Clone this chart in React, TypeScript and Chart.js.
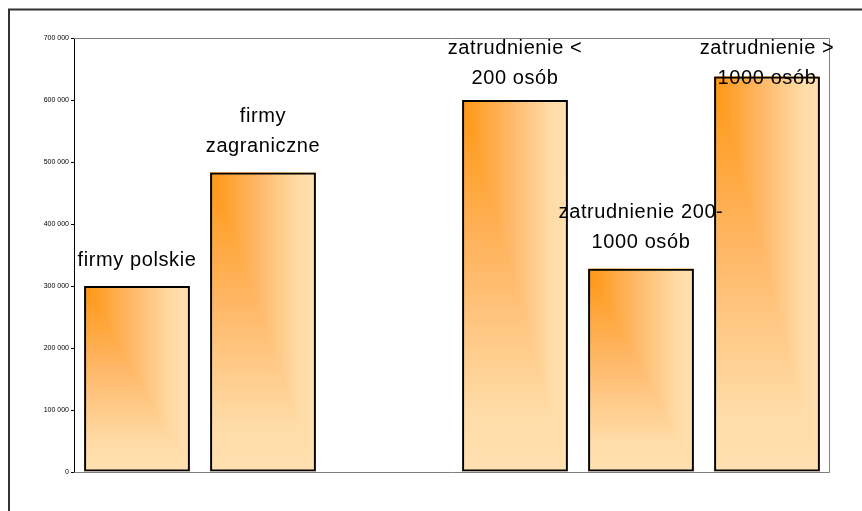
import React, { useEffect, useRef } from "react";
import { Chart, registerables } from "chart.js";

Chart.register(...registerables);

const categories: string[][] = [
  ["firmy polskie"],
  ["firmy", "zagraniczne"],
  [],
  ["zatrudnienie <", "200 osób"],
  ["zatrudnienie 200-", "1000 osób"],
  ["zatrudnienie >", "1000 osób"],
];
const values: (number | null)[] = [300000, 483000, null, 600000, 328000, 638000];
const yTicks: number[] = [0, 100000, 200000, 300000, 400000, 500000, 600000, 700000];

const fmt = (v: number) => {
  const s = Math.round(v).toString();
  return s.replace(/\B(?=(\d{3})+(?!\d))/g, " ");
};

const ORANGE = "#FF9612";
const PEACH = "#FFE0B0";

const gradientPlugin = {
  id: "cornerGradient",
  beforeDatasetsDraw(chart: any) {
    const ctx = chart.ctx as CanvasRenderingContext2D;
    const area = chart.chartArea;
    ctx.save();
    ctx.strokeStyle = "#808080";
    ctx.lineWidth = 1;
    ctx.beginPath();
    ctx.moveTo(area.left, Math.round(area.top) + 0.5);
    ctx.lineTo(Math.round(area.right) - 0.5, Math.round(area.top) + 0.5);
    ctx.lineTo(Math.round(area.right) - 0.5, Math.round(area.bottom) + 0.5);
    ctx.lineTo(area.left, Math.round(area.bottom) + 0.5);
    ctx.stroke();
    ctx.restore();

    const meta = chart.getDatasetMeta(0);
    meta.data.forEach((el: any, i: number) => {
      if (values[i] == null) return;
      const p = el.getProps(["x", "y", "base", "width"], true);
      const L = p.x - p.width / 2;
      const R = p.x + p.width / 2;
      const T = Math.min(p.y, p.base);
      const B = Math.max(p.y, p.base);
      const stops = (g: CanvasGradient) => {
        g.addColorStop(0, ORANGE);
        g.addColorStop(0.45, "#FFB868");
        g.addColorStop(0.85, "#FFDCA8");
        g.addColorStop(1, PEACH);
        return g;
      };
      ctx.save();
      ctx.fillStyle = stops(ctx.createLinearGradient(0, T, 0, B));
      ctx.fillRect(L, T, R - L, B - T);
      ctx.beginPath();
      ctx.moveTo(L, T);
      ctx.lineTo(R, T);
      ctx.lineTo(R, B);
      ctx.closePath();
      ctx.fillStyle = stops(ctx.createLinearGradient(L, 0, R, 0));
      ctx.fill();
      ctx.restore();
    });
  },
  afterDatasetsDraw(chart: any) {
    const ctx = chart.ctx as CanvasRenderingContext2D;
    const area = chart.chartArea;
    const meta = chart.getDatasetMeta(0);
    ctx.save();
    ctx.font = "20px 'Liberation Sans', Arial, sans-serif";
    (ctx as any).letterSpacing = "0.6px";
    ctx.fillStyle = "#000";
    ctx.textAlign = "center";
    ctx.textBaseline = "middle";
    const lineH = 30;
    meta.data.forEach((el: any, i: number) => {
      const lines = categories[i];
      if (values[i] == null || !lines.length) return;
      const p = el.getProps(["x", "y"], true);
      let first = p.y - 26 - lineH * (lines.length - 1);
      if (first < area.top + 10) first = area.top + 10;
      lines.forEach((ln, k) => {
        ctx.fillText(ln, p.x, first + k * lineH);
      });
    });
    ctx.restore();
  },
  afterDraw(chart: any) {
    const ctx = chart.ctx as CanvasRenderingContext2D;
    ctx.save();
    ctx.strokeStyle = "#333";
    ctx.lineWidth = 2;
    ctx.beginPath();
    ctx.moveTo(9, 600);
    ctx.lineTo(9, 9.5);
    ctx.lineTo(900, 9.5);
    ctx.stroke();
    ctx.restore();
  },
};

export default function App() {
  const ref = useRef<HTMLCanvasElement | null>(null);
  useEffect(() => {
    document.body.style.margin = "0";
    if (!ref.current) return;
    const chart = new Chart(ref.current, {
      type: "bar",
      data: {
        labels: categories.map((c) => c.join(" ")),
        datasets: [
          {
            data: values,
            backgroundColor: "rgba(0,0,0,0)",
            borderColor: "#000",
            borderWidth: 2,
            borderSkipped: false,
            barPercentage: 0.84,
            categoryPercentage: 1,
          },
        ],
      },
      plugins: [gradientPlugin],
      options: {
        animation: false,
        responsive: false,
        devicePixelRatio: 1,
        layout: { padding: { left: 8, top: 38, right: 32, bottom: 39 } },
        plugins: { legend: { display: false }, tooltip: { enabled: false } },
        scales: {
          x: { display: false, grid: { display: false } },
          y: {
            min: 0,
            max: 700000,
            afterBuildTicks: (scale: any) => {
              scale.ticks = yTicks.map((v) => ({ value: v }));
            },
            afterFit: (scale: any) => {
              scale.width = 66;
            },
            ticks: {
              callback: (v: any) => fmt(Number(v)),
              font: { family: "'Liberation Sans', Arial, sans-serif", size: 7 },
              color: "#000",
              padding: 2,
            },
            grid: {
              display: true,
              drawOnChartArea: false,
              drawTicks: true,
              tickLength: 3,
              color: "#000",
            },
            border: { display: true, color: "#000", width: 1 },
          },
        },
      },
    });
    return () => chart.destroy();
  }, []);
  return (
    <div style={{ position: "absolute", left: 0, top: 0, width: 862, height: 511 }}>
      <canvas ref={ref} width={862} height={511} />
    </div>
  );
}
